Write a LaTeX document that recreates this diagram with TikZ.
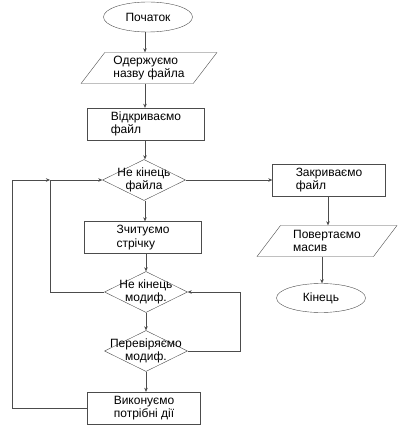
\documentclass[tikz,border=0pt]{standalone}
\usepackage{fontspec}
\setmainfont{Liberation Sans}
\usetikzlibrary{shapes.geometric}
\usetikzlibrary{arrows.meta}

\begin{document}
\begin{tikzpicture} [
    x=1pt, y=-1pt,
    font=\fontsize{12}{13.5}\selectfont,
    f/.style={draw=black!70,-{Stealth[length=4pt,width=3.5pt]}},
    term/.style={
        draw=black!70, ellipse, inner sep=0pt,
        minimum width=89pt, minimum height=30pt
    },
    io/.style={
        draw=black!70, trapezium, inner sep=0pt,
        trapezium left angle=52, trapezium right angle=128,
        trapezium stretches=true,
        minimum width=136pt, minimum height=31pt,
        align=left
    },
    proc/.style={
        draw=black!70, rectangle,
        minimum width=117pt, minimum height=32pt,
        align=left
    },
    cond/.style={
        draw=black!70, diamond, inner sep=0pt,
        minimum width=83pt, minimum height=41pt
    }
]

\useasboundingbox (0,0) rectangle (402,430);

% main column
\node [term] (start) at (148,17) {Початок};
\node [io] (name) at (149,68) {Одержуємо\\назву файла};
\node [proc] (open) at (146,124) {Відкриваємо\\файл};
\node [cond,label={[align=center]center:Не кінець\\файла}] (eof) at (144,180) {};
\node [proc] (read) at (143,237.5) {Зчитуємо\\стрічку};
\node [cond,label={[align=center]center:Не кінець\\модиф.}] (eom) at (146,292) {};
\node [cond,label={[align=center]center:Перевіряємо\\модиф.}] (check) at (146,351) {};
\node [proc,align=center,minimum width=113pt] (act) at (144,408) {Виконуємо\\потрібні дії};

% right column
\node [proc,minimum width=113pt] (close) at (329,180) {Закриваємо\\файл};
\node [io,minimum width=140pt] (ret) at (327,241) {Повертаємо\\масив};
\node [term,minimum height=29pt] (end) at (321,298) {Кінець};

\coordinate (j1) at (50,180);
\coordinate (outer) at (12,180);
\coordinate (rloop) at (240,351);

\draw [f] (start.south -| 145,0) -- (name.north -| 145,0);
\draw [f] (name.south -| 145,0) -- (open.north -| 145,0);
\draw [f] (open.south -| 145,0) -- (eof.north -| 145,0);
\draw [f] (eof.south -| 145,0) -- (read.north -| 145,0);
\draw [f] (read.south -| 146,0) -- (eom.north);
\draw [f] (eom) -- (check.north);
\draw [f] (check) -- (act.north -| check);

\draw [f] (eof.east) -- (close.west);
\draw [f] (close.south -| 328,0) -- (ret.north -| 328,0);
\draw [f] (ret.south -| 322,0) -- (end.north -| 322,0);

\draw [f] (eom.west) -| (j1) -- (eof.west);
\draw [f] (act.west) -| (outer) -- (j1);
\draw [f] (check.east) -- (rloop) |- (eom.east);

\end{tikzpicture}
\end{document}
